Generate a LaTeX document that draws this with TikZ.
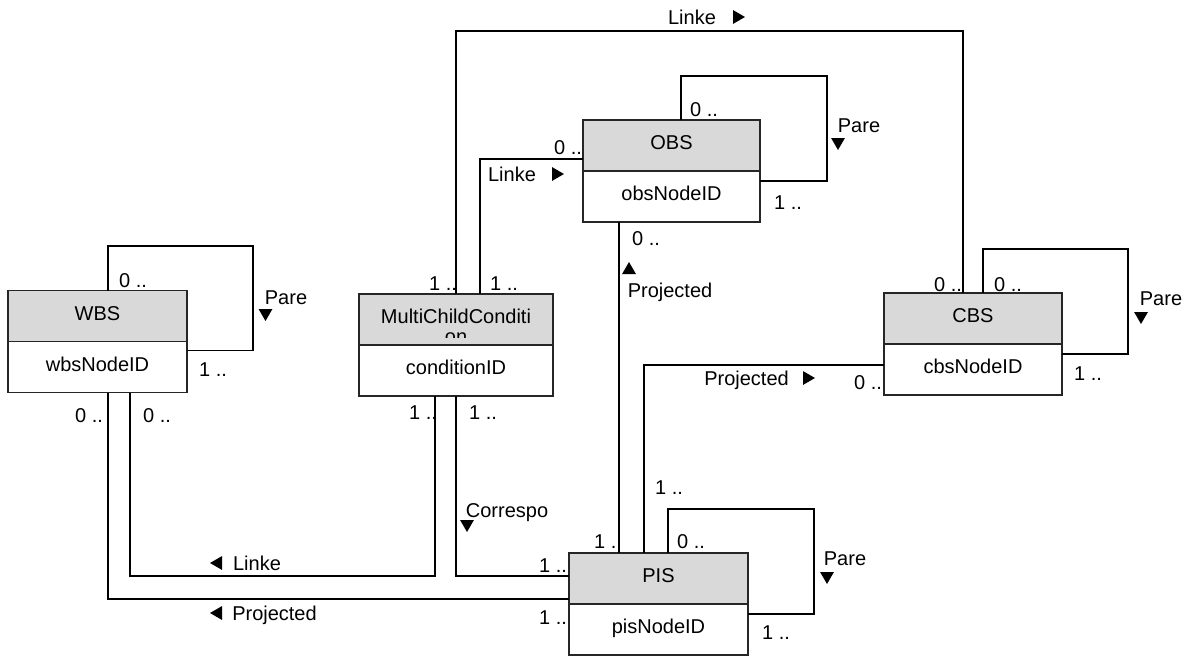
\documentclass[tikz,border=0pt]{standalone}
\usepackage{fontspec}
\setmainfont{Liberation Sans}
\usetikzlibrary{calc, positioning, shapes.geometric}
\definecolor{hdrgray}{RGB}{217,217,217}
\tikzset{
  hdr/.style={
    rectangle,
    draw=black!85,
    fill=hdrgray,
    line width=0.6pt,
    minimum width=#1,
    minimum height=25.5pt,
    text height=7.2pt,
    text depth=3pt,
    inner sep=0pt,
    outer sep=0pt
  },
  attr/.style={
    hdr=#1,
    fill=white
  },
  assoc/.style={
    line width=1.1pt
  },
  selfline/.style={
    line width=0.6pt
  },
  mult/.style={
    inner sep=0pt,
    text height=7.2pt,
    text depth=0pt
  },
  dirtri/.style={
    regular polygon,
    regular polygon sides=3,
    fill=black,
    inner sep=0pt,
    minimum size=8pt,
    shape border rotate=#1
  }
}
\begin{document}
\begin{tikzpicture}[x=0.5pt, y=-0.5pt, font=\fontsize{10}{12}\selectfont]
    \useasboundingbox (0,0) rectangle (1192,658);

    \node[hdr=89.5pt] (wbsh) at (97.5,316) {WBS};
    \node[attr=89.5pt, below=0pt of wbsh] (wbsb) {wbsNodeID};
    \node[hdr=97pt] (mcch) at (456,319.5) {MultiChildConditi};
    \node[attr=97pt, below=0pt of mcch] (mccb) {conditionID};
    \node[hdr=88.5pt] (obsh) at (671.5,145.5) {OBS};
    \node[attr=88.5pt, below=0pt of obsh] (obsb) {obsNodeID};
    \node[hdr=89pt] (cbsh) at (973,318.5) {CBS};
    \node[attr=89pt, below=0pt of cbsh] (cbsb) {cbsNodeID};
    \node[hdr=89.5pt] (pish) at (658.5,578.5) {PIS};
    \node[attr=89.5pt, below=0pt of pish] (pisb) {pisNodeID};
    \begin{scope}
      \clip (359,294) rectangle (553,337);
      \node[inner sep=0pt] (mccwrap) at (456,338.5) {on};
    \end{scope}

    \draw[selfline] ($(wbsh.north west)+(100,0)$) |- (253,246) |- ($(wbsb.north east)+(0,9)$);
    \draw[selfline] ($(obsh.north west)+(98,0)$) |- (827,76) |- ($(obsb.north east)+(0,10)$);
    \draw[selfline] ($(cbsh.north west)+(99,0)$) |- (1128,249) |- ($(cbsb.north east)+(0,10)$);
    \draw[selfline] ($(pish.north west)+(99,0)$) |- (814,509) |- ($(pisb.north east)+(0,10)$);

    \draw[assoc] ($(mcch.north west)+(97,0)$) -- (456,31) -| ($(cbsh.north west)+(79,0)$);
    \draw[assoc] ($(mcch.north west)+(121,0)$) |- ($(obsh.south west)+(0,-12)$);
    \draw[assoc] ($(obsb.south west)+(36,0)$) -- ($(pish.north west)+(50,0)$);
    \draw[assoc] ($(cbsb.north west)+(0,21)$) -| ($(pish.north west)+(75,0)$);
    \draw[assoc] ($(mccb.south west)+(76,0)$) |- (130,576) -- ($(wbsb.south west)+(122,0)$);
    \draw[assoc] ($(mccb.south west)+(97,0)$) |- ($(pish.north west)+(0,23)$);
    \draw[assoc] ($(wbsb.south west)+(100,0)$) |- ($(pisb.north west)+(0,-5)$);

    \node[mult] (wbsm1) at (133,280) {0 ..};
    \node[mult] (wbsm2) at (213,369) {1 ..};
    \node[mult] (wbsm3) at (89,415) {0 ..};
    \node[mult] (wbsm4) at (157,415) {0 ..};
    \node[mult] (mccm1) at (443,283) {1 ..};
    \node[mult] (mccm2) at (504,283) {1 ..};
    \node[mult] (mccm3) at (423,412) {1 ..};
    \node[mult] (mccm4) at (483,412) {1 ..};
    \node[mult] (obsm1) at (568,147) {0 ..};
    \node[mult] (obsm2) at (704,109) {0 ..};
    \node[mult] (obsm3) at (788,202) {1 ..};
    \node[mult] (obsm4) at (646,238) {0 ..};
    \node[mult] (cbsm1) at (948,284) {0 ..};
    \node[mult] (cbsm2) at (1008,284) {0 ..};
    \node[mult] (cbsm3) at (1088,373) {1 ..};
    \node[mult] (cbsm4) at (868,382) {0 ..};
    \node[mult] (pism1) at (669,487) {1 ..};
    \node[mult] (pism2) at (608,541) {1 ..};
    \node[mult] (pism3) at (691,541) {0 ..};
    \node[mult] (pism4) at (553,565) {1 ..};
    \node[mult] (pism5) at (553,617) {1 ..};
    \node[mult] (pism6) at (776,632) {1 ..};

    \node[mult] (toplinke) at (692,17) {Linke};
    \node[dirtri=-90] (toptri) at (737,17) {};
    \node[mult] (obslinke) at (512,174) {Linke};
    \node[dirtri=-90] (obslinketri) at (556,174) {};
    \node[mult] (obspare) at (859,125) {Pare};
    \node[dirtri=180] (obsparetri) at (838,142) {};
    \node[mult] (obsproj) at (670,290) {Projected};
    \node[dirtri=0] (obsprojtri) at (629,270) {};
    \node[mult] (wbspare) at (286,297) {Pare};
    \node[dirtri=180] (wbsparetri) at (265.5,313) {};
    \node[mult] (cbspare) at (1161,298) {Pare};
    \node[dirtri=180] (cbsparetri) at (1141,316) {};
    \node[mult] (pispare) at (845,558) {Pare};
    \node[dirtri=180] (pisparetri) at (827,576) {};
    \node[mult] (corresp) at (507,510) {Correspo};
    \node[dirtri=180] (corresptri) at (467,524) {};
    \node[mult] (cbsproj) at (746.5,378) {Projected};
    \node[dirtri=-90] (cbsprojtri) at (807,378) {};
    \node[mult] (wbslinke) at (257,563) {Linke};
    \node[dirtri=90] (wbslinketri) at (218,563) {};
    \node[mult] (wbsproj) at (274.5,613) {Projected};
    \node[dirtri=90] (wbsprojtri) at (218,613) {};
\end{tikzpicture}
\end{document}
